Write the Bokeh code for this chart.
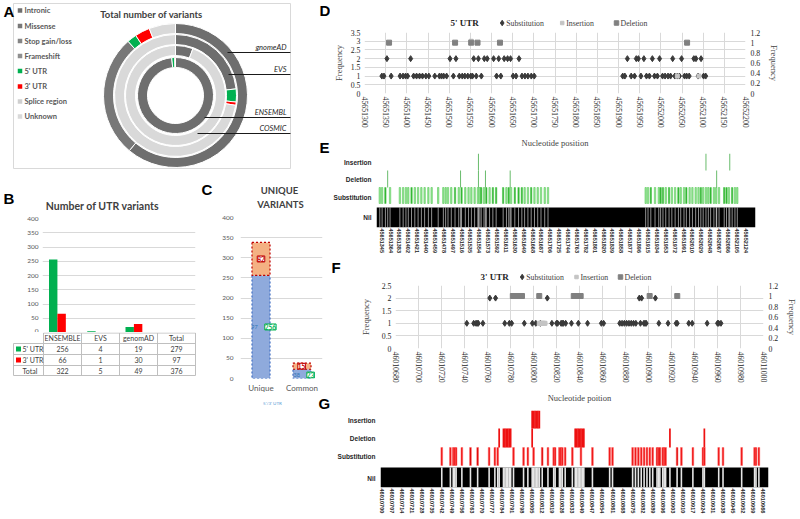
import math
from bokeh.plotting import figure
from bokeh.layouts import row, column
from bokeh.models import (Range1d, LinearAxis, FixedTicker, CustomJSTickFormatter,
                          LabelSet, ColumnDataSource, Spacer)
from bokeh.embed import file_html
from bokeh.resources import INLINE
from bokeh.core.properties import value

# ------------------------------------------------------------------ data
variant_types = ["Intronic", "Missense", "Stop gain/loss", "Frameshift",
                 "5' UTR", "3' UTR", "Splice region", "Unknown"]
type_colors = ["#6e6e6e", "#787878", "#858585", "#8f8f8f",
               "#00b050", "#ff0000", "#cfcfcf", "#d9d9d9"]

ring_names = ["gnomeAD", "EVS", "ENSEMBL", "COSMIC"]
gnomad_types = ["Intronic", "Missense", "5' UTR", "3' UTR", "Unknown"]
gnomad_counts = [545, 245, 19, 30, 53]
evs_types = ["Intronic", "5' UTR", "3' UTR", "Unknown"]
evs_counts = [27, 4, 1, 84]
cosmic_types = ["Intronic", "Unknown"]
cosmic_counts = [6, 100]
ensembl_types = ["Intronic", "5' UTR", "3' UTR"]
ensembl_counts = [20000, 256, 66]

utr_sources = ["ENSEMBLE", "EVS", "genomAD"]
utr5_counts = [256, 4, 19]
utr3_counts = [66, 1, 30]
b_yticks = [0, 50, 100, 150, 200, 250, 300, 350, 400]

uniq_cats = ["Unique", "Common"]
uniq_5utr = [256, 23]
uniq_3utr = [82, 15]
uniq_blue_labels = ["97", "38"]

sub5_pos = [
    45651341, 45651346, 45651353, 45651363, 45651384, 45651391, 45651397, 45651402, 45651409, 45651416,
    45651423, 45651430, 45651437, 45651445, 45651452, 45651466, 45651477, 45651482, 45651487, 45651494,
    45651502, 45651510, 45651516, 45651524, 45651531, 45651537, 45651544, 45651551, 45651555, 45651558,
    45651564, 45651569, 45651576, 45651583, 45651590, 45651605, 45651612, 45651617, 45651622, 45651630,
    45651638, 45651645, 45651651, 45651658, 45651665, 45651672, 45651679, 45651686, 45651694, 45651701,
    45651910, 45651915, 45651921, 45651930, 45651938, 45651942, 45651947, 45651953, 45651960, 45651966,
    45651973, 45651980, 45651985, 45651992, 45651997, 45652004, 45652010, 45652017, 45652023, 45652028,
    45652033, 45652039, 45652044, 45652049, 45652056, 45652061, 45652067, 45652078, 45652083, 45652088,
    45652095, 45652101, 45652106]
sub5_freq = [
    1, 1, 2, 1, 1, 1, 1, 1, 2, 1,
    1, 1, 1, 1, 1, 1, 1, 1, 1, 1,
    2, 1, 2, 1, 1, 1, 1, 1, 1, 2,
    1, 2, 1, 2, 2, 2, 1, 2, 1, 2,
    2, 2, 1, 1, 2, 1, 1, 1, 1, 1,
    1, 1, 2, 1, 1, 2, 2, 1, 2, 1,
    1, 2, 1, 1, 2, 1, 1, 1, 1, 2,
    1, 1, 1, 2, 1, 1, 1, 2, 2, 1,
    2, 1, 1]
del5_pos = [45651358, 45651514, 45651552, 45651567, 45651620, 45652062]
del5_freq = [1, 1, 1, 1, 1, 1]
ins5_pos = [45651552, 45652039, 45652090]
ins5_freq = [3, 1, 1]
nil5_span = [45651334, 45652145]

sub3_pos = [
    46010742, 46010748, 46010750, 46010751, 46010752, 46010756, 46010762, 46010767, 46010775, 46010779,
    46010781, 46010792, 46010799, 46010802, 46010806, 46010812, 46010816, 46010820, 46010821, 46010824,
    46010825, 46010826, 46010828, 46010833, 46010839, 46010847, 46010859, 46010861, 46010875, 46010877,
    46010879, 46010881, 46010883, 46010885, 46010887, 46010889, 46010892, 46010893, 46010894, 46010896,
    46010897, 46010898, 46010906, 46010909, 46010917, 46010924, 46010925, 46010935, 46010938, 46010951,
    46010960, 46010961, 46010963]
sub3_freq = [
    1, 1, 1, 1, 1, 1, 2, 2, 1, 1,
    1, 1, 1, 1, 1, 2, 1, 1, 1, 1,
    1, 1, 1, 1, 1, 1, 1, 1, 1, 1,
    1, 1, 1, 1, 1, 1, 2, 1, 2, 1,
    1, 1, 2, 1, 1, 1, 1, 1, 1, 1,
    1, 1, 1]
del3_pos = [46010782, 46010785, 46010786, 46010787, 46010788, 46010789, 46010790, 46010805,
            46010835, 46010836, 46010837, 46010838, 46010839, 46010840, 46010841, 46010901, 46010925]
del3_freq = [1, 1, 1, 1, 1, 1, 1, 1, 1, 1, 1, 1, 1, 1, 1, 1, 1]
ins3_pos = [46010805, 46010806, 46010807, 46010808, 46010809, 46010810]
ins3_freq = [1, 1, 1, 1, 1, 1]
nil3_span = [46010699.3, 46010969.7]

d_xticks = list(range(45651300, 45652201, 50))
d_yticks = [0, 0.5, 1, 1.5, 2, 2.5, 3, 3.5]
f_xticks = list(range(46010680, 46011001, 20))
f_yticks = [0, 0.5, 1, 1.5, 2, 2.5]
sec_yticks = [0, 0.2, 0.4, 0.6, 0.8, 1.0, 1.2]
e_xticks = list(range(45651345, 45652125, 19))
g_xticks = list(range(46010700, 46010967, 7))
row_names = ["Nil", "Substitution", "Deletion", "Insertion"]
legend_names = ["Substitution", "Insertion", "Deletion"]

# ------------------------------------------------------------------ helpers
SANS = "Lato"
SERIF = "Liberation Serif"
ARIAL = "Liberation Sans"
GRID = "#d9d9d9"
SUB_C, INS_C, DEL_C = "#3a3a3a", "#c4c4c4", "#808080"
color_of = dict(zip(variant_types, type_colors))


def make_fig(w, h, xr, yr, borders, **kw):
    p = figure(width=w, height=h, x_range=Range1d(*xr), y_range=Range1d(*yr),
               output_backend="svg", toolbar_location=None, **kw)
    p.min_border_left, p.min_border_right, p.min_border_top, p.min_border_bottom = borders
    p.outline_line_color = None
    p.border_fill_color = "white"
    p.background_fill_color = "white"
    if "frame_align" in p.properties():
        p.frame_align = False
    return p


def canvas_fig(x0, y0, w, h):
    """A figure whose frame is its whole canvas; data coords = (page x, -page y)."""
    p = make_fig(w, h, (x0, x0 + w), (-(y0 + h), -y0), (0, 0, 0, 0),
                 x_axis_location=None, y_axis_location=None)
    p.grid.visible = False
    return p


def ctext(p, sx, sy, t, size, font=SANS, color="#404040", style="normal",
          align="left", baseline="middle"):
    p.text(x=[sx], y=[-sy], text=[t], text_font=value(font), text_font_size=size,
           text_color=color, text_font_style=style, text_align=align, text_baseline=baseline)


def letter(p, sx, sy, t):
    ctext(p, sx, sy, t, "15px", font=ARIAL, color="black", style="bold", baseline="top")


def style_axis(ax, size, font, color="#262626", standoff=3, bold=False):
    ax.axis_line_color = None
    ax.major_tick_line_color = None
    ax.minor_tick_line_color = None
    ax.major_tick_out = 0
    ax.major_tick_in = 0
    ax.minor_tick_out = 0
    ax.major_label_text_font_size = size
    ax.major_label_text_font = font
    ax.major_label_text_color = color
    ax.major_label_standoff = standoff
    if bold:
        ax.major_label_text_font_style = "bold"


# ================================================================== Panel A
pA = canvas_fig(0, 0, 330, 180)
pA.quad(left=[13], right=[290], top=[-3], bottom=[-168], fill_color=None, line_color="#d9d9d9")
letter(pA, 3, 2, "A")
letter(pA, 319, 1, "D")
letter(pA, 319, 138, "E")

leg_y = [10, 25.5, 40.5, 55.5, 70.5, 86, 101, 116]
pA.rect(x=[19.5] * len(variant_types), y=[-v for v in leg_y], width=4.5, height=4.5,
        fill_color=type_colors, line_color=None)
pA.text(x=[24] * len(variant_types), y=[-v for v in leg_y], text=variant_types,
        text_font=value(SANS), text_font_size="7.5px", text_color="#595959",
        text_baseline="middle", text_font_style="bold")
ctext(pA, 151, 13.5, "Total number of variants", "9.5px", style="bold", align="center")

cx, cy = 175, -95
ring_radii = [(62, 72), (51, 61), (28, 38), (40, 50)]
ring_data = [(gnomad_types, gnomad_counts), (evs_types, evs_counts),
             (ensembl_types, ensembl_counts), (cosmic_types, cosmic_counts)]
for (types, counts), (r0, r1) in zip(ring_data, ring_radii):
    total = float(sum(counts))
    cum = 0.0
    st, en, cols = [], [], []
    for t, c in zip(types, counts):
        st.append(math.pi / 2 - 2 * math.pi * cum / total)
        cum += c
        en.append(math.pi / 2 - 2 * math.pi * cum / total)
        cols.append(color_of[t])
    n = len(types)
    pA.annular_wedge(x=[cx] * n, y=[cy] * n, inner_radius=r0, outer_radius=r1,
                     start_angle=st, end_angle=en, direction="clock",
                     fill_color=cols, line_color="white", line_width=1)

lead_x0 = [227, 228, 204, 197]
lead_y = [52, 74, 117, 133]
pA.segment(x0=lead_x0, y0=[-v for v in lead_y], x1=[290] * 4, y1=[-v for v in lead_y],
           line_color="#1a1a1a", line_width=1)
pA.text(x=[286] * 4, y=[-(v - 5) for v in lead_y], text=ring_names, text_font=value(SANS),
        text_font_size="7.5px", text_font_style="italic", text_color="#262626",
        text_align="right", text_baseline="middle")

# ================================================================== Panel B
pBh = canvas_fig(0, 180, 200, 32)
letter(pBh, 3, 189, "B")
ctext(pBh, 102, 205, "Number of UTR variants", "10.5px", style="bold", align="center")

pB = make_fig(200, 120, (0, 4), (0, 400), (42, 5, 6, 0), x_axis_location=None)
pB.xgrid.visible = False
tb = FixedTicker(ticks=b_yticks)
pB.yaxis.ticker = tb
pB.ygrid.ticker = tb
pB.ygrid.grid_line_color = GRID
style_axis(pB.yaxis[0], "6.5px", SANS, "#595959", 4)
pB.vbar(x=[i + 0.28 for i in range(len(utr_sources))], top=utr5_counts, width=0.22,
        fill_color="#00b050", line_color=None)
pB.vbar(x=[i + 0.5 for i in range(len(utr_sources))], top=utr3_counts, width=0.22,
        fill_color="#ff0000", line_color=None)

pT = canvas_fig(0, 332, 200, 44)
col_edges = [43, 81, 119, 157, 195]
row_edges = [332.5, 343, 354, 365, 375]
hx0 = [43] + [13] * 4
pT.segment(x0=hx0, y0=[-v for v in row_edges], x1=[195] * 5, y1=[-v for v in row_edges],
           line_color="#bfbfbf", line_width=1)
pT.segment(x0=[13] + col_edges, y0=[-343] + [-332.5] * 5, x1=[13] + col_edges, y1=[-375] * 6,
           line_color="#bfbfbf", line_width=1)
col_c = [(col_edges[i] + col_edges[i + 1]) / 2 for i in range(4)]
headers = utr_sources + ["Total"]
row5 = utr5_counts + [sum(utr5_counts)]
row3 = utr3_counts + [sum(utr3_counts)]
rowt = [a + b for a, b in zip(row5, row3)]
row_cy = [337.8, 348.5, 359.5, 370]
tx, ty, tt = [], [], []
for j in range(4):
    tx += [col_c[j]] * 4
    ty += [-row_cy[0], -row_cy[1], -row_cy[2], -row_cy[3]]
    tt += [headers[j], str(row5[j]), str(row3[j]), str(rowt[j])]
pT.text(x=tx, y=ty, text=tt, text_font=value(SANS), text_font_size="7px",
        text_color="#404040", text_align="center", text_baseline="middle")
pT.rect(x=[18, 18], y=[-row_cy[1], -row_cy[2]], width=5, height=5,
        fill_color=["#00b050", "#ff0000"], line_color=None)
pT.text(x=[22, 22, 22], y=[-row_cy[1], -row_cy[2], -row_cy[3]], text=["5' UTR", "3' UTR", "Total"],
        text_font=value(SANS), text_font_size="7px", text_color="#404040", text_baseline="middle")

spB = Spacer(width=200, height=143)

# ================================================================== Panel C
pCh = canvas_fig(200, 180, 130, 31)
letter(pCh, 201, 180, "C")
ctext(pCh, 279, 190, "UNIQUE", "9.5px", style="bold", align="center")
ctext(pCh, 280, 203.5, "VARIANTS", "9.5px", style="bold", align="center")

pC = make_fig(130, 184, (0, 2), (0, 400), (40, 8, 6, 14))
pC.xgrid.visible = False
tc = FixedTicker(ticks=b_yticks)
pC.yaxis.ticker = tc
pC.ygrid.ticker = tc
pC.ygrid.grid_line_color = GRID
style_axis(pC.yaxis[0], "6.5px", SANS, "#595959", 7)
pC.xaxis.ticker = FixedTicker(ticks=[0.5, 1.5])
pC.xaxis.major_label_overrides = {0.5: uniq_cats[0], 1.5: uniq_cats[1]}
style_axis(pC.xaxis[0], "8px", SANS, "#595959", 4)
xc = [0.5, 1.5]
tops = [a + b for a, b in zip(uniq_5utr, uniq_3utr)]
pC.vbar(x=xc, bottom=0, top=uniq_5utr, width=0.44, fill_color="#8faadc",
        line_color="#4472c4", line_dash="2 2", line_width=1.2)
pC.vbar(x=xc, bottom=uniq_5utr, top=tops, width=0.44, fill_color="#f4b183",
        line_color="#c00000", line_dash="2 2", line_width=1.2)
lsrc = ColumnDataSource(dict(
    x=[0.5, 1.49, 0.73, 1.71],
    y=[uniq_5utr[0] + uniq_3utr[0] / 2, uniq_5utr[1] + uniq_3utr[1] / 2,
       uniq_5utr[0] / 2, uniq_5utr[1] / 2 - 3],
    t=[str(uniq_3utr[0]), str(uniq_3utr[1]), str(uniq_5utr[0]), str(uniq_5utr[1])],
    c=["#c00000", "#c00000", "#00b050", "#00b050"]))
pC.add_layout(LabelSet(x="x", y="y", text="t", source=lsrc, text_font=value(SANS),
                       text_font_size="6.5px", text_font_style="bold", text_color="c",
                       text_align="center", text_baseline="middle",
                       border_line_color="c", background_fill_color="white"))
bsrc = ColumnDataSource(dict(x=[0.34, 1.37], y=[uniq_5utr[0] / 2, uniq_5utr[1] / 2 - 3],
                             t=uniq_blue_labels))
pC.add_layout(LabelSet(x="x", y="y", text="t", source=bsrc, text_font=value(SANS),
                       text_font_size="5.5px", text_color="#2f75b5",
                       text_align="center", text_baseline="middle"))

pCf = canvas_fig(200, 395, 130, 124)
ctext(pCf, 272, 402.5, "5'/3' UTR", "4.5px", color="#5b9bd5", align="center")
letter(pCf, 318, 394, "G")

# ================================================================== scatter panels (D, F)
fmt_int = CustomJSTickFormatter(code="return tick.toFixed(0);")
fmt_num = CustomJSTickFormatter(code="return String(tick);")


def header(x0, y0, w, h, title, tx0, item_x, sy):
    p = canvas_fig(x0, y0, w, h)
    ctext(p, tx0, sy, title, "9px", font=SERIF, color="#262626", style="bold")
    p.scatter(x=[item_x[0]], y=[-sy], marker="diamond", size=5.5, color=SUB_C)
    p.scatter(x=[item_x[1]], y=[-sy], marker="square", size=3.5, color=INS_C)
    p.scatter(x=[item_x[2]], y=[-sy], marker="square", size=4.5, color=DEL_C)
    p.text(x=[v + 4 for v in item_x], y=[-sy] * 3, text=legend_names, text_font=value(SERIF),
           text_font_size="7.8px", text_color="#404040", text_baseline="middle")
    return p


def scatter_panel(w, h, b, xr, yr, xticks, yticks, xlabel, sub_pos, sub_freq,
                  ins_pos, ins_freq, del_pos, del_freq, lstand):
    p = make_fig(w, h, xr, yr, b)
    p.extra_y_ranges = {"sec": Range1d(0, 1.2)}
    tx_ = FixedTicker(ticks=xticks)
    ty_ = FixedTicker(ticks=yticks)
    p.xaxis.ticker = tx_
    p.xgrid.ticker = tx_
    p.yaxis.ticker = ty_
    p.ygrid.ticker = ty_
    p.grid.grid_line_color = GRID
    xa = p.xaxis[0]
    style_axis(xa, "7.8px", SERIF, "#262626", 3)
    xa.formatter = fmt_int
    xa.major_label_orientation = "vertical"
    xa.axis_label = xlabel
    xa.axis_label_text_font = SERIF
    xa.axis_label_text_font_size = "8.5px"
    xa.axis_label_text_font_style = "normal"
    xa.axis_label_standoff = 7
    ya = p.yaxis[0]
    style_axis(ya, "7.8px", SERIF, "#262626", 4)
    ya.formatter = fmt_num
    ya.axis_label = "Frequency"
    ya.axis_label_text_font = SERIF
    ya.axis_label_text_font_size = "8.5px"
    ya.axis_label_text_font_style = "normal"
    ya.axis_label_standoff = lstand
    ra = LinearAxis(y_range_name="sec", ticker=FixedTicker(ticks=sec_yticks), formatter=fmt_num,
                    axis_label="Frequency")
    style_axis(ra, "7.8px", SERIF, "#262626", 5)
    ra.axis_label_text_font = SERIF
    ra.axis_label_text_font_size = "8.5px"
    ra.axis_label_text_font_style = "normal"
    ra.axis_label_standoff = 6
    p.add_layout(ra, "right")
    p.scatter(x=sub_pos, y=sub_freq, marker="diamond", size=6, color=SUB_C)
    p.scatter(x=ins_pos, y=ins_freq, marker="square", size=4, color=INS_C)
    p.scatter(x=del_pos, y=del_freq, y_range_name="sec", marker="square", size=5, color=DEL_C)
    return p


pDh = header(330, 0, 470, 28, "5' UTR", 450, [501.7, 561.7, 616], 22.5)
pD = scatter_panel(470, 122, (32, 55, 4, 56), (45651300, 45652200), (0, 3.5), d_xticks, d_yticks,
                   "Nucleotide position", sub5_pos, sub5_freq, ins5_pos, ins5_freq,
                   del5_pos, del5_freq, 4)

pFh = header(330, 258, 470, 24, "3' UTR", 480, [521.7, 576, 620], 276.5)
letter(pFh, 331, 258, "F")
pF = scatter_panel(470, 123, (65, 33, 3, 52), (46010680, 46011000), (0, 2.5), f_xticks, f_yticks,
                   "Nucleotide poition", sub3_pos, sub3_freq, ins3_pos, ins3_freq,
                   del3_pos, del3_freq, 8)


# ================================================================== track panels (E, G)
def track_panel(w, h, b, xr, yr, xticks, row_y, label_size, nil_span, sub_pos, sub_freq,
                del_pos, ins_pos, rows, sub_cols, sub_line, dl_col, half_sub, half_line,
                gap_col, gap_alpha, gap_half):
    p = make_fig(w, h, xr, yr, b)
    p.grid.visible = False
    xa = p.xaxis[0]
    xa.ticker = FixedTicker(ticks=xticks)
    xa.formatter = fmt_int
    xa.major_label_orientation = "vertical"
    style_axis(xa, label_size, ARIAL, "#262626", 1, bold=True)
    ya = p.yaxis[0]
    ya.ticker = FixedTicker(ticks=row_y)
    ya.major_label_overrides = {row_y[i]: row_names[i] for i in range(4)}
    style_axis(ya, "6.5px", ARIAL, "#262626", 5, bold=True)
    (nil0, nil1), (s0, s1), (d0, d1), (i0, i1) = rows
    p.quad(left=[nil_span[0]], right=[nil_span[1]], bottom=[nil0], top=[nil1],
           fill_color="black", line_color=None)
    allv = sorted(set(sub_pos) | set(del_pos) | set(ins_pos))
    p.quad(left=[v - gap_half for v in allv], right=[v + gap_half for v in allv],
           bottom=nil0, top=nil1, fill_color=gap_col, fill_alpha=gap_alpha, line_color=None)
    p.quad(left=[v - half_sub for v in sub_pos], right=[v + half_sub for v in sub_pos],
           bottom=s0, top=s1, fill_color=[sub_cols[f] for f in sub_freq],
           line_color=sub_line, line_width=0.5)
    p.quad(left=[v - half_line for v in del_pos], right=[v + half_line for v in del_pos],
           bottom=d0, top=d1, fill_color=dl_col, line_color=None)
    p.quad(left=[v - half_line for v in ins_pos], right=[v + half_line for v in ins_pos],
           bottom=i0, top=i1, fill_color=dl_col, line_color=None)
    return p


pE = track_panel(470, 108, (45, 45, 3, 31), (45651334, 45652145), (0, 3.7), e_xticks,
                 [0.5, 1.5, 2.4, 3.25], "5.5px", nil5_span, sub5_pos, sub5_freq, del5_pos, ins5_pos,
                 [(0, 1), (1.2, 2.0), (2.0, 2.85), (2.85, 3.7)],
                 {1: "#9be89b", 2: "#2fb52f"}, "#45c145", "#4caf50", 1.5, 0.9,
                 "white", 0.6, 1.0)

pG = track_panel(470, 114, (50, 32, 5, 32), (46010699.3, 46010969.7), (0, 3.85), g_xticks,
                 [0.45, 1.55, 2.45, 3.35], "5.6px", nil3_span, sub3_pos, sub3_freq, del3_pos, ins3_pos,
                 [(0, 1), (1.1, 2.0), (2.0, 2.95), (2.95, 3.85)],
                 {1: "#ee1111", 2: "#dd0000"}, "#ff6060", "#ee1111", 0.6, 0.6,
                 "white", 0.9, 0.55)

# ================================================================== layout
left = column(pA, row(column(pBh, pB, pT, spB), column(pCh, pC, pCf)))
right = column(pDh, pD, pE, pFh, pF, pG)
layout = row(left, right)

open("out.html", "w").write(file_html(layout, INLINE))
